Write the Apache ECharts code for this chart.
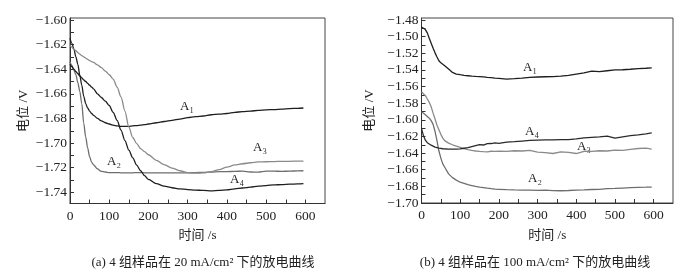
<!DOCTYPE html>
<html>
<head>
<meta charset="utf-8">
<script src="https://cdn.jsdelivr.net/npm/echarts@6/dist/echarts.min.js"></script>
<style>
  html, body { margin: 0; padding: 0; background: #fff; }
  #chart { width: 689px; height: 277px; }
</style>
</head>
<body>
<div id="chart"></div>
<script>
// time points (s), shared by both panels
const times = [0, 5, 10, 15, 20, 25, 30, 35, 40, 45, 50, 55, 60, 70, 80, 90, 100, 110, 120, 130, 140, 150, 160, 170, 180, 190, 200, 220, 240, 260, 280, 300, 320, 340, 360, 380, 400, 420, 440, 460, 480, 500, 520, 540, 560, 580, 595]

// (a) 20 mA/cm2
const a1 = [-1.615, -1.619, -1.624, -1.630, -1.636, -1.645, -1.653, -1.662, -1.668, -1.6715, -1.674, -1.676, -1.6775, -1.680, -1.682, -1.6835, -1.6845, -1.6855, -1.686, -1.6865, -1.6865, -1.6865, -1.686, -1.6858, -1.6855, -1.685, -1.6845, -1.6835, -1.6825, -1.6815, -1.6805, -1.6793, -1.6785, -1.678, -1.677, -1.6765, -1.676, -1.675, -1.6745, -1.674, -1.6735, -1.673, -1.6728, -1.6725, -1.672, -1.6718, -1.6715]
const a2 = [-1.634, -1.637, -1.641, -1.6445, -1.651, -1.658, -1.668, -1.684, -1.695, -1.704, -1.711, -1.7155, -1.7178, -1.721, -1.723, -1.7235, -1.724, -1.724, -1.724, -1.7242, -1.7242, -1.7242, -1.7242, -1.724, -1.724, -1.7242, -1.7242, -1.7243, -1.7243, -1.7243, -1.7243, -1.7242, -1.724, -1.7238, -1.7235, -1.7232, -1.7232, -1.723, -1.7228, -1.7235, -1.7236, -1.7228, -1.7228, -1.723, -1.7228, -1.7226, -1.7225]
const a3 = [-1.6203, -1.6222, -1.6238, -1.625, -1.6265, -1.6277, -1.629, -1.630, -1.631, -1.632, -1.633, -1.6338, -1.6345, -1.6365, -1.6387, -1.6415, -1.6445, -1.648, -1.6545, -1.6625, -1.674, -1.687, -1.6955, -1.7005, -1.7045, -1.707, -1.7095, -1.714, -1.7175, -1.7203, -1.7225, -1.724, -1.7245, -1.7243, -1.7232, -1.7215, -1.7195, -1.7178, -1.7168, -1.716, -1.7153, -1.7152, -1.715, -1.7148, -1.7148, -1.7146, -1.7146]
const a4 = [-1.636, -1.638, -1.640, -1.642, -1.6437, -1.6455, -1.647, -1.6487, -1.650, -1.6515, -1.653, -1.6545, -1.656, -1.660, -1.663, -1.666, -1.6695, -1.675, -1.6815, -1.6895, -1.698, -1.7057, -1.712, -1.718, -1.7225, -1.7265, -1.7295, -1.733, -1.735, -1.7363, -1.7372, -1.7378, -1.7382, -1.7385, -1.7388, -1.7385, -1.738, -1.7372, -1.7365, -1.7358, -1.735, -1.7345, -1.734, -1.7337, -1.7334, -1.7332, -1.733]

// (b) 100 mA/cm2
const b1 = [-1.4885, -1.4895, -1.4915, -1.4955, -1.502, -1.508, -1.514, -1.5195, -1.5245, -1.529, -1.5315, -1.5335, -1.535, -1.539, -1.543, -1.545, -1.5458, -1.5465, -1.547, -1.5475, -1.5478, -1.548, -1.5485, -1.549, -1.5492, -1.5498, -1.5502, -1.551, -1.5505, -1.5498, -1.549, -1.5485, -1.5482, -1.548, -1.5475, -1.5465, -1.545, -1.5435, -1.5415, -1.542, -1.541, -1.540, -1.5398, -1.5392, -1.5385, -1.538, -1.5375]
const b2 = [-1.5904, -1.592, -1.594, -1.596, -1.598, -1.601, -1.6055, -1.614, -1.625, -1.6375, -1.646, -1.653, -1.657, -1.665, -1.6695, -1.6725, -1.675, -1.6765, -1.678, -1.679, -1.680, -1.6808, -1.6815, -1.6822, -1.6828, -1.6833, -1.6835, -1.684, -1.6843, -1.6845, -1.6845, -1.6848, -1.6846, -1.6852, -1.6853, -1.685, -1.6845, -1.6842, -1.6838, -1.6835, -1.6828, -1.6825, -1.682, -1.6815, -1.6812, -1.681, -1.6808]
const b3 = [-1.5663, -1.568, -1.571, -1.575, -1.579, -1.5844, -1.592, -1.599, -1.6065, -1.612, -1.6175, -1.622, -1.625, -1.628, -1.630, -1.6315, -1.633, -1.6345, -1.6358, -1.6368, -1.6375, -1.638, -1.6383, -1.6385, -1.6378, -1.638, -1.6377, -1.638, -1.6372, -1.6375, -1.6368, -1.6388, -1.6395, -1.6405, -1.6385, -1.6392, -1.6405, -1.6378, -1.638, -1.6372, -1.6375, -1.6365, -1.6368, -1.6355, -1.6345, -1.634, -1.6352]
const b4 = [-1.6105, -1.619, -1.6245, -1.6275, -1.6295, -1.6305, -1.6318, -1.6328, -1.6335, -1.634, -1.6345, -1.6348, -1.635, -1.6352, -1.6353, -1.6352, -1.635, -1.6342, -1.6335, -1.6322, -1.631, -1.6298, -1.6303, -1.6287, -1.6285, -1.6278, -1.6282, -1.6268, -1.6262, -1.6255, -1.6248, -1.6245, -1.6242, -1.624, -1.6238, -1.6237, -1.623, -1.6218, -1.621, -1.6205, -1.6195, -1.622, -1.6205, -1.619, -1.618, -1.6168, -1.6158]

// tick labels
const xLabels = [0, 100, 200, 300, 400, 500, 600]
const xTicks = [0, 50, 100, 150, 200, 250, 300, 350, 400, 450, 500, 550, 600]
const yLabelsA = [-1.60, -1.62, -1.64, -1.66, -1.68, -1.70, -1.72, -1.74]
const yTicksA = [-1.60, -1.61, -1.62, -1.63, -1.64, -1.65, -1.66, -1.67, -1.68, -1.69, -1.70, -1.71, -1.72, -1.73, -1.74]
const yLabelsB = [-1.48, -1.50, -1.52, -1.54, -1.56, -1.58, -1.60, -1.62, -1.64, -1.66, -1.68, -1.70]
const yTicksB = [-1.48, -1.49, -1.50, -1.51, -1.52, -1.53, -1.54, -1.55, -1.56, -1.57, -1.58, -1.59, -1.60, -1.61, -1.62, -1.63, -1.64, -1.65, -1.66, -1.67, -1.68, -1.69, -1.70]

const font = '"Liberation Serif", "Noto Sans CJK SC", serif'
const ink = '#222'
const dark = '#1e1e1e'
const grey = '#6e6e6e'
const lightGrey = '#8a8a8a'

const pairs = vals => times.map((t, i) => [t, vals[i]])

function xAxis(gridIndex) {
  return {
    type: 'value',
    gridIndex,
    min: 0,
    max: 650,
    name: '时间 /s',
    nameLocation: 'middle',
    nameGap: 26,
    nameTextStyle: { fontFamily: font, fontSize: 13, color: ink },
    axisLine: { show: true, lineStyle: { color: '#333', width: 1 } },
    axisTick: { show: true, inside: true, length: 4, customValues: xTicks, lineStyle: { color: '#333' } },
    axisLabel: { customValues: xLabels, fontFamily: font, fontSize: 13.5, color: ink, margin: 6 },
    splitLine: { show: false }
  }
}

function yAxis(gridIndex, min, max, labels, ticks, nameGap) {
  return {
    type: 'value',
    gridIndex,
    min,
    max,
    name: '电位 /V',
    nameLocation: 'middle',
    nameGap,
    nameTextStyle: { fontFamily: font, fontSize: 13, color: ink },
    axisLine: { show: true, lineStyle: { color: '#333', width: 1 } },
    axisTick: { show: true, inside: true, length: 4, customValues: ticks, lineStyle: { color: '#333' } },
    axisLabel: {
      customValues: labels,
      fontFamily: font,
      fontSize: 13.5,
      color: ink,
      margin: 3,
      formatter: v => v.toFixed(2).replace('-', '\u2212')
    },
    splitLine: { show: false }
  }
}

function line(name, vals, idx, color, smooth) {
  return {
    name,
    type: 'line',
    xAxisIndex: idx,
    yAxisIndex: idx,
    data: pairs(vals),
    showSymbol: false,
    smooth: smooth ? 0.3 : false,
    smoothMonotone: 'x',
    lineStyle: { color, width: 1.3 },
    silent: true
  }
}

function tag(text, x, y) {
  return {
    type: 'text',
    x,
    y,
    style: { text, font: '13px ' + font, fill: ink, align: 'center', verticalAlign: 'middle' }
  }
}

const chart = echarts.init(document.getElementById('chart'))
const option = {
  backgroundColor: '#fff',
  animation: false,
  grid: [
    { left: 70, top: 18, width: 255, height: 185.5, show: true, borderColor: '#444', borderWidth: 1, backgroundColor: 'transparent' },
    { left: 421.5, top: 18, width: 251.5, height: 185, show: true, borderColor: '#444', borderWidth: 1, backgroundColor: 'transparent' }
  ],
  xAxis: [xAxis(0), xAxis(1)],
  yAxis: [
    yAxis(0, -1.7491, -1.5984, yLabelsA, yTicksA, 40),
    yAxis(1, -1.70, -1.4776, yLabelsB, yTicksB, 45)
  ],
  series: [
    line('A1', a1, 0, dark, true),
    line('A2', a2, 0, grey, true),
    line('A3', a3, 0, lightGrey, true),
    line('A4', a4, 0, dark, true),
    line('A1', b1, 1, dark, false),
    line('A2', b2, 1, grey, false),
    line('A3', b3, 1, lightGrey, false),
    line('A4', b4, 1, '#2a2a2a', false)
  ],
  graphic: [
    tag('A\u2081', 187, 107),
    tag('A\u2082', 114, 162),
    tag('A\u2083', 260, 148),
    tag('A\u2084', 237, 180),
    tag('A\u2081', 530, 68),
    tag('A\u2084', 532, 132),
    tag('A\u2083', 584, 147),
    tag('A\u2082', 535, 179),
    tag('(a) 4 组样品在 20 mA/cm\u00b2 下的放电曲线', 203, 263),
    tag('(b) 4 组样品在 100 mA/cm\u00b2 下的放电曲线', 535, 263)
  ]
}
option && chart.setOption(option)
</script>
</body>
</html>
